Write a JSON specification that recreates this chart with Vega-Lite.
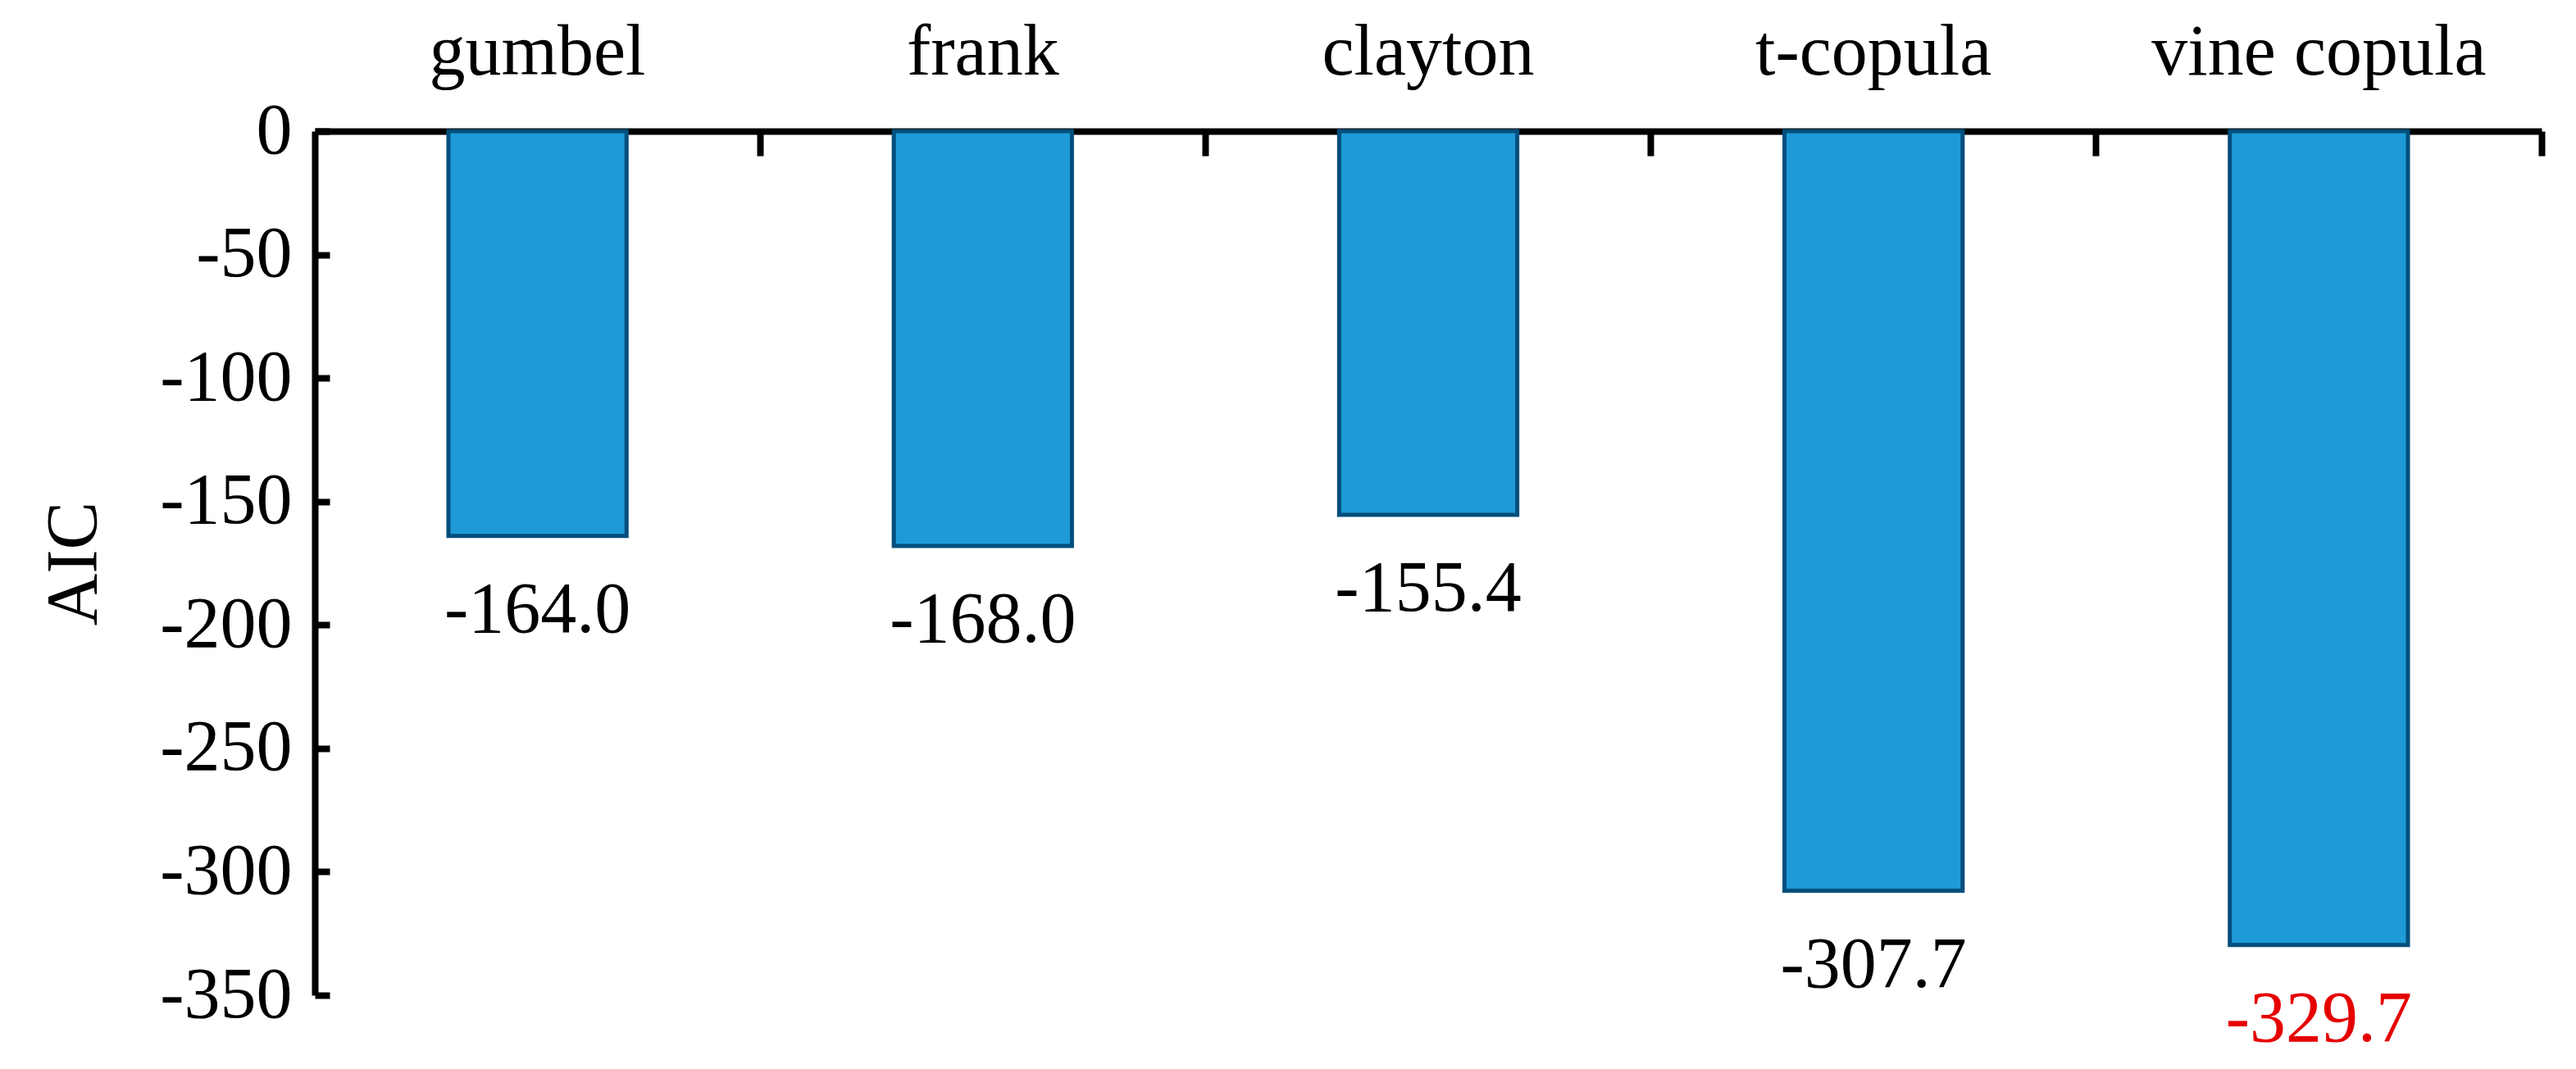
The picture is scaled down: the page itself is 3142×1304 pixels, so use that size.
{
  "$schema": "https://vega.github.io/schema/vega-lite/v6.json",
  "description": "AIC by copula model",
  "autosize": "none",
  "width": 2716,
  "height": 1054,
  "padding": {"left": 384, "top": 160, "right": 42, "bottom": 90},
  "background": "white",
  "data": {
    "values": [
      {"model": "gumbel", "aic": -164.0},
      {"model": "frank", "aic": -168.0},
      {"model": "clayton", "aic": -155.4},
      {"model": "t-copula", "aic": -307.7},
      {"model": "vine copula", "aic": -329.7}
    ]
  },
  "resolve": {
    "scale": {"x": "shared", "y": "shared"},
    "axis": {"x": "independent", "y": "independent"}
  },
  "layer": [
    {
      "mark": {
        "type": "bar",
        "color": "#1E9BD7",
        "stroke": "#004E7C",
        "strokeWidth": 5
      },
      "encoding": {
        "x": {
          "field": "model",
          "type": "nominal",
          "sort": null,
          "scale": {"paddingInner": 0.6, "paddingOuter": 0.3},
          "axis": {
            "orient": "top",
            "title": null,
            "labelAngle": 0,
            "labelBaseline": "alphabetic",
            "labelPadding": 70,
            "labelLimit": 1000,
            "ticks": false
          }
        },
        "y": {
          "field": "aic",
          "type": "quantitative",
          "scale": {"domain": [-350, 0], "nice": false, "zero": false},
          "axis": {
            "orient": "left",
            "title": "AIC",
            "values": [0, -50, -100, -150, -200, -250, -300, -350],
            "ticks": false,
            "labelPadding": 28,
            "titlePadding": 60,
            "labelBaseline": "middle"
          }
        },
        "y2": {"datum": 0}
      }
    },
    {
      "mark": {
        "type": "text",
        "baseline": "top",
        "dy": 47,
        "fontSize": 88,
        "font": "Liberation Serif"
      },
      "encoding": {
        "x": {
          "field": "model",
          "type": "nominal",
          "sort": null,
          "axis": {
            "orient": "top",
            "title": null,
            "offset": -30,
            "domain": false,
            "labels": false,
            "bandPosition": 1.75,
            "tickSize": 30
          }
        },
        "y": {
          "field": "aic",
          "type": "quantitative",
          "axis": {
            "orient": "left",
            "title": null,
            "offset": -18,
            "domain": false,
            "labels": false,
            "values": [0, -50, -100, -150, -200, -250, -300, -350],
            "tickSize": 18
          }
        },
        "text": {"field": "aic", "type": "quantitative", "format": ".1f"},
        "color": {
          "condition": {"test": "datum.model === 'vine copula'", "value": "#E60000"},
          "value": "black"
        }
      }
    }
  ],
  "config": {
    "view": {"stroke": null},
    "font": "Liberation Serif",
    "locale": {
      "number": {
        "decimal": ".",
        "thousands": ",",
        "grouping": [3],
        "currency": ["$", ""],
        "minus": "-"
      }
    },
    "axis": {
      "grid": false,
      "labelFont": "Liberation Serif",
      "labelFontSize": 88,
      "labelColor": "black",
      "titleFont": "Liberation Serif",
      "titleFontSize": 88,
      "titleFontWeight": "normal",
      "titleColor": "black",
      "domainColor": "black",
      "domainWidth": 8,
      "tickColor": "black",
      "tickWidth": 8
    }
  }
}
